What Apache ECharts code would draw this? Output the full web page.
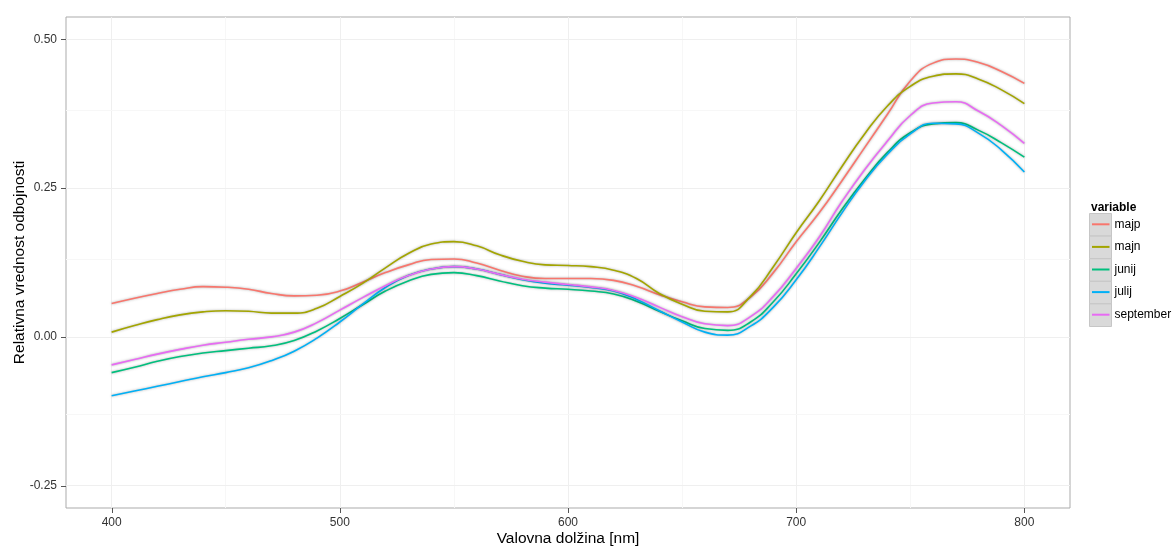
<!DOCTYPE html>
<html>
<head>
<meta charset="utf-8">
<script src="https://cdn.jsdelivr.net/npm/echarts@6/dist/echarts.min.js"></script>
<style>
html,body{margin:0;padding:0;background:#fff;}
#chart{width:1173px;height:546px;}
</style>
</head>
<body>
<div id="chart"></div>
<script>
// wavelengths (nm)
const wavelengths = [400,410,420,430,440,450,460,470,480,490,500,510,520,530,540,550,560,570,580,590,600,610,620,630,640,650,660,670,680,690,700,710,720,730,740,750,760,770,780,790,800];

const majp = [0.056,0.065,0.073,0.080,0.0845,0.0835,0.080,0.073,0.069,0.070,0.077,0.092,0.108,0.121,0.130,0.131,0.124,0.112,0.102,0.098,0.098,0.098,0.095,0.085,0.071,0.059,0.0505,0.0495,0.067,0.108,0.160,0.208,0.262,0.318,0.374,0.430,0.460,0.467,0.461,0.446,0.426];
const majn = [0.008,0.019,0.029,0.037,0.042,0.044,0.043,0.040,0.040,0.048,0.068,0.090,0.116,0.140,0.156,0.160,0.153,0.138,0.127,0.121,0.120,0.118,0.112,0.098,0.073,0.055,0.043,0.042,0.068,0.118,0.175,0.228,0.286,0.341,0.388,0.421,0.438,0.442,0.433,0.415,0.392];
const junij = [-0.060,-0.051,-0.041,-0.033,-0.027,-0.023,-0.019,-0.015,-0.006,0.010,0.031,0.054,0.077,0.094,0.105,0.108,0.103,0.094,0.086,0.082,0.080,0.077,0.072,0.060,0.043,0.027,0.014,0.011,0.025,0.059,0.106,0.158,0.214,0.265,0.310,0.343,0.358,0.360,0.347,0.326,0.302];
const julij = [-0.099,-0.091,-0.083,-0.075,-0.067,-0.060,-0.052,-0.040,-0.024,-0.002,0.025,0.055,0.083,0.103,0.114,0.118,0.114,0.105,0.096,0.090,0.087,0.083,0.077,0.063,0.044,0.025,0.008,0.003,0.018,0.050,0.096,0.150,0.208,0.262,0.307,0.341,0.359,0.358,0.342,0.314,0.277];
const september = [-0.047,-0.038,-0.029,-0.021,-0.014,-0.009,-0.004,0.000,0.008,0.024,0.045,0.066,0.086,0.103,0.114,0.118,0.114,0.105,0.097,0.092,0.088,0.084,0.078,0.066,0.050,0.034,0.022,0.019,0.034,0.068,0.115,0.167,0.227,0.281,0.329,0.372,0.393,0.395,0.379,0.355,0.325];

const seriesNames = ['majp','majn','junij','julij','september'];
const seriesColors = ['#F8766D','#A3A500','#00BF7D','#00B0F6','#E76BF3'];
const seriesValues = [majp, majn, junij, julij, september];

const xTicks = [400,500,600,700,800];
const xMinor = [450,550,650,750];
const yTicks = [-0.25,0,0.25,0.5];
const yMinor = [-0.125,0.125,0.375];

// axis ranges (ggplot-style 5% expansion)
const X_MIN = 380, X_MAX = 820;
const Y_MIN = -0.2875, Y_MAX = 0.5375;

const chart = echarts.init(document.getElementById('chart'), null, {renderer:'canvas'});

const gridLines = [].concat(
  xTicks.map(v => ({xAxis: v, lineStyle: {color: '#efefef', width: 1, type: 'solid'}})),
  xMinor.map(v => ({xAxis: v, lineStyle: {color: '#f7f7f7', width: 1, type: 'solid'}})),
  yTicks.map(v => ({yAxis: v, lineStyle: {color: '#efefef', width: 1, type: 'solid'}})),
  yMinor.map(v => ({yAxis: v, lineStyle: {color: '#f7f7f7', width: 1, type: 'solid'}}))
);

const TICK_LEN = 5;
const tickData = [].concat(
  xTicks.map(v => [v, Y_MIN, 0]),
  yTicks.map(v => [X_MIN, v, 1])
);

const series = [{
  name: 'grid',
  type: 'line',
  data: [[400, 0]],
  symbol: 'none',
  showSymbol: false,
  lineStyle: {opacity: 0},
  silent: true,
  z: 0,
  markLine: {
    silent: true,
    z: 0,
    symbol: ['none','none'],
    label: {show: false},
    animation: false,
    data: gridLines
  }
}, {
  name: 'ticks',
  type: 'custom',
  silent: true,
  clip: false,
  z: 20,
  data: tickData,
  renderItem: function (params, api) {
    const p = api.coord([api.value(0), api.value(1)]);
    const isY = api.value(2) === 1;
    const x1 = Math.round(p[0]) + (isY ? 0 : 0.5);
    const y1 = Math.round(p[1]) + (isY ? 0.5 : 0);
    return {
      type: 'line',
      shape: isY
        ? {x1: x1, y1: y1, x2: x1 - TICK_LEN, y2: y1}
        : {x1: x1, y1: y1, x2: x1, y2: y1 + TICK_LEN},
      style: {stroke: '#555', lineWidth: 1}
    };
  }
}].concat(seriesValues.map((vals, i) => ({
  name: seriesNames[i],
  type: 'line',
  smooth: 0.5,
  showSymbol: false,
  symbol: 'none',
  data: wavelengths.map((w, j) => [w, vals[j]]),
  lineStyle: {
    color: seriesColors[i],
    width: 1.6,
    shadowColor: 'rgba(0,0,0,0.35)',
    shadowBlur: 2.5
  },
  itemStyle: {color: seriesColors[i]},
  z: 10
})));

const legendBoxes = seriesNames.map((n, i) => ({
  type: 'rect',
  left: 1089,
  top: 213 + i * 22.6,
  shape: {width: 22, height: 22.6},
  style: {fill: '#d9d9d9', stroke: '#c6c6c6', lineWidth: 1},
  z: 0
}));

chart.setOption({
  animation: false,
  backgroundColor: '#ffffff',
  textStyle: {fontFamily: 'Liberation Sans, Arial, sans-serif'},
  title: {
    text: 'variable',
    left: 1086,
    top: 197,
    textStyle: {fontSize: 12, fontWeight: 'bold', color: '#000', fontFamily: 'Liberation Sans, Arial, sans-serif'}
  },
  graphic: legendBoxes,
  legend: {
    orient: 'vertical',
    left: 1092,
    top: 213,
    itemGap: 0,
    itemWidth: 17.5,
    itemHeight: 2,
    icon: 'rect',
    data: seriesNames,
    z: 5,
    textStyle: {fontSize: 12, color: '#000', lineHeight: 22.6, fontFamily: 'Liberation Sans, Arial, sans-serif'},
    padding: 0
  },
  grid: {
    left: 66, top: 17, right: 103, bottom: 38,
    containLabel: false, outerBoundsMode: 'none',
    show: true, borderColor: '#ababab', borderWidth: 1, backgroundColor: 'transparent'
  },
  xAxis: {
    type: 'value',
    min: X_MIN, max: X_MAX,
    name: 'Valovna dolžina [nm]',
    nameLocation: 'middle',
    nameGap: 23,
    nameMoveOverlap: false,
    nameTextStyle: {fontSize: 15.5, color: '#000'},
    axisLine: {show: false, onZero: false},
    axisTick: {show: false},
    axisLabel: {customValues: xTicks, fontSize: 12, color: '#333', margin: 9},
    splitLine: {show: false}
  },
  yAxis: {
    type: 'value',
    min: Y_MIN, max: Y_MAX,
    name: 'Relativna vrednost odbojnosti',
    nameLocation: 'middle',
    nameGap: 38,
    nameMoveOverlap: false,
    nameTextStyle: {fontSize: 15.5, color: '#000'},
    axisLine: {show: false, onZero: false},
    axisTick: {show: false},
    axisLabel: {customValues: yTicks, fontSize: 12, color: '#333', margin: 9,
      formatter: v => v.toFixed(2)},
    splitLine: {show: false}
  },
  series: series
});
</script>
</body>
</html>
